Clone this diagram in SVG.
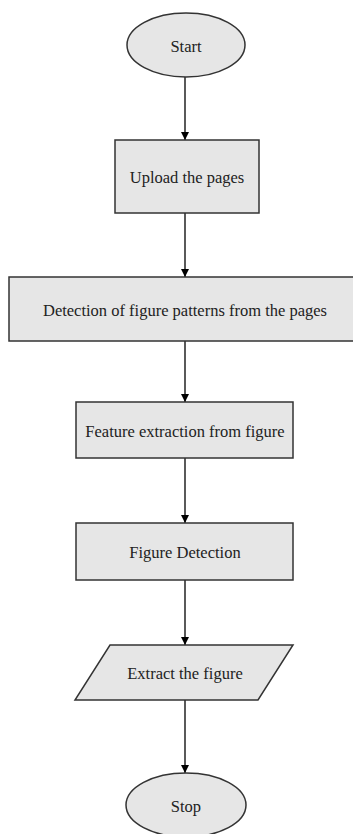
<svg xmlns="http://www.w3.org/2000/svg" width="353" height="834" viewBox="0 0 353 834">
<style>
.n{fill:#e6e6e6;stroke:#333;stroke-width:1.5}
.t{font-family:"Liberation Serif","Times New Roman",serif;font-size:16.5px;fill:#222;text-anchor:middle;dominant-baseline:central}
.c{stroke:#000;stroke-width:1.3;fill:none;marker-end:url(#ah)}
</style>
<defs>
<marker id="ah" viewBox="0 0 8 8" refX="8" refY="4" markerWidth="8" markerHeight="8" markerUnits="userSpaceOnUse" orient="auto">
<path d="M0,0 L8,4 L0,8 Z" fill="#000"/>
</marker>
</defs>
<rect width="353" height="834" fill="#fff"/>
<g id="connectors">
<line class="c" x1="185" y1="77" x2="185" y2="140"/>
<line class="c" x1="185" y1="213" x2="185" y2="277"/>
<line class="c" x1="185" y1="341" x2="185" y2="402"/>
<line class="c" x1="185" y1="458" x2="185" y2="523"/>
<line class="c" x1="185" y1="580" x2="185" y2="645"/>
<line class="c" x1="185" y1="700" x2="185" y2="773"/>
</g>
<g id="start">
<ellipse class="n" cx="186" cy="45" rx="59" ry="32"/>
<text class="t" x="186" y="46">Start</text>
</g>
<g id="upload">
<rect class="n" x="115" y="140" width="144" height="73"/>
<text class="t" x="187" y="177">Upload the pages</text>
</g>
<g id="detection">
<rect class="n" x="9" y="277" width="352" height="64"/>
<text class="t" x="185" y="310">Detection of figure patterns from the pages</text>
</g>
<g id="feature">
<rect class="n" x="76" y="402" width="217" height="56"/>
<text class="t" x="185" y="431">Feature extraction from figure</text>
</g>
<g id="figuredetection">
<rect class="n" x="76" y="523" width="217" height="57"/>
<text class="t" x="185" y="552">Figure Detection</text>
</g>
<g id="extract">
<polygon class="n" points="110,645 293,645 258,700 75,700"/>
<text class="t" x="185" y="673">Extract the figure</text>
</g>
<g id="stop">
<ellipse class="n" cx="186" cy="805" rx="60" ry="32"/>
<text class="t" x="186" y="806">Stop</text>
</g>
</svg>
